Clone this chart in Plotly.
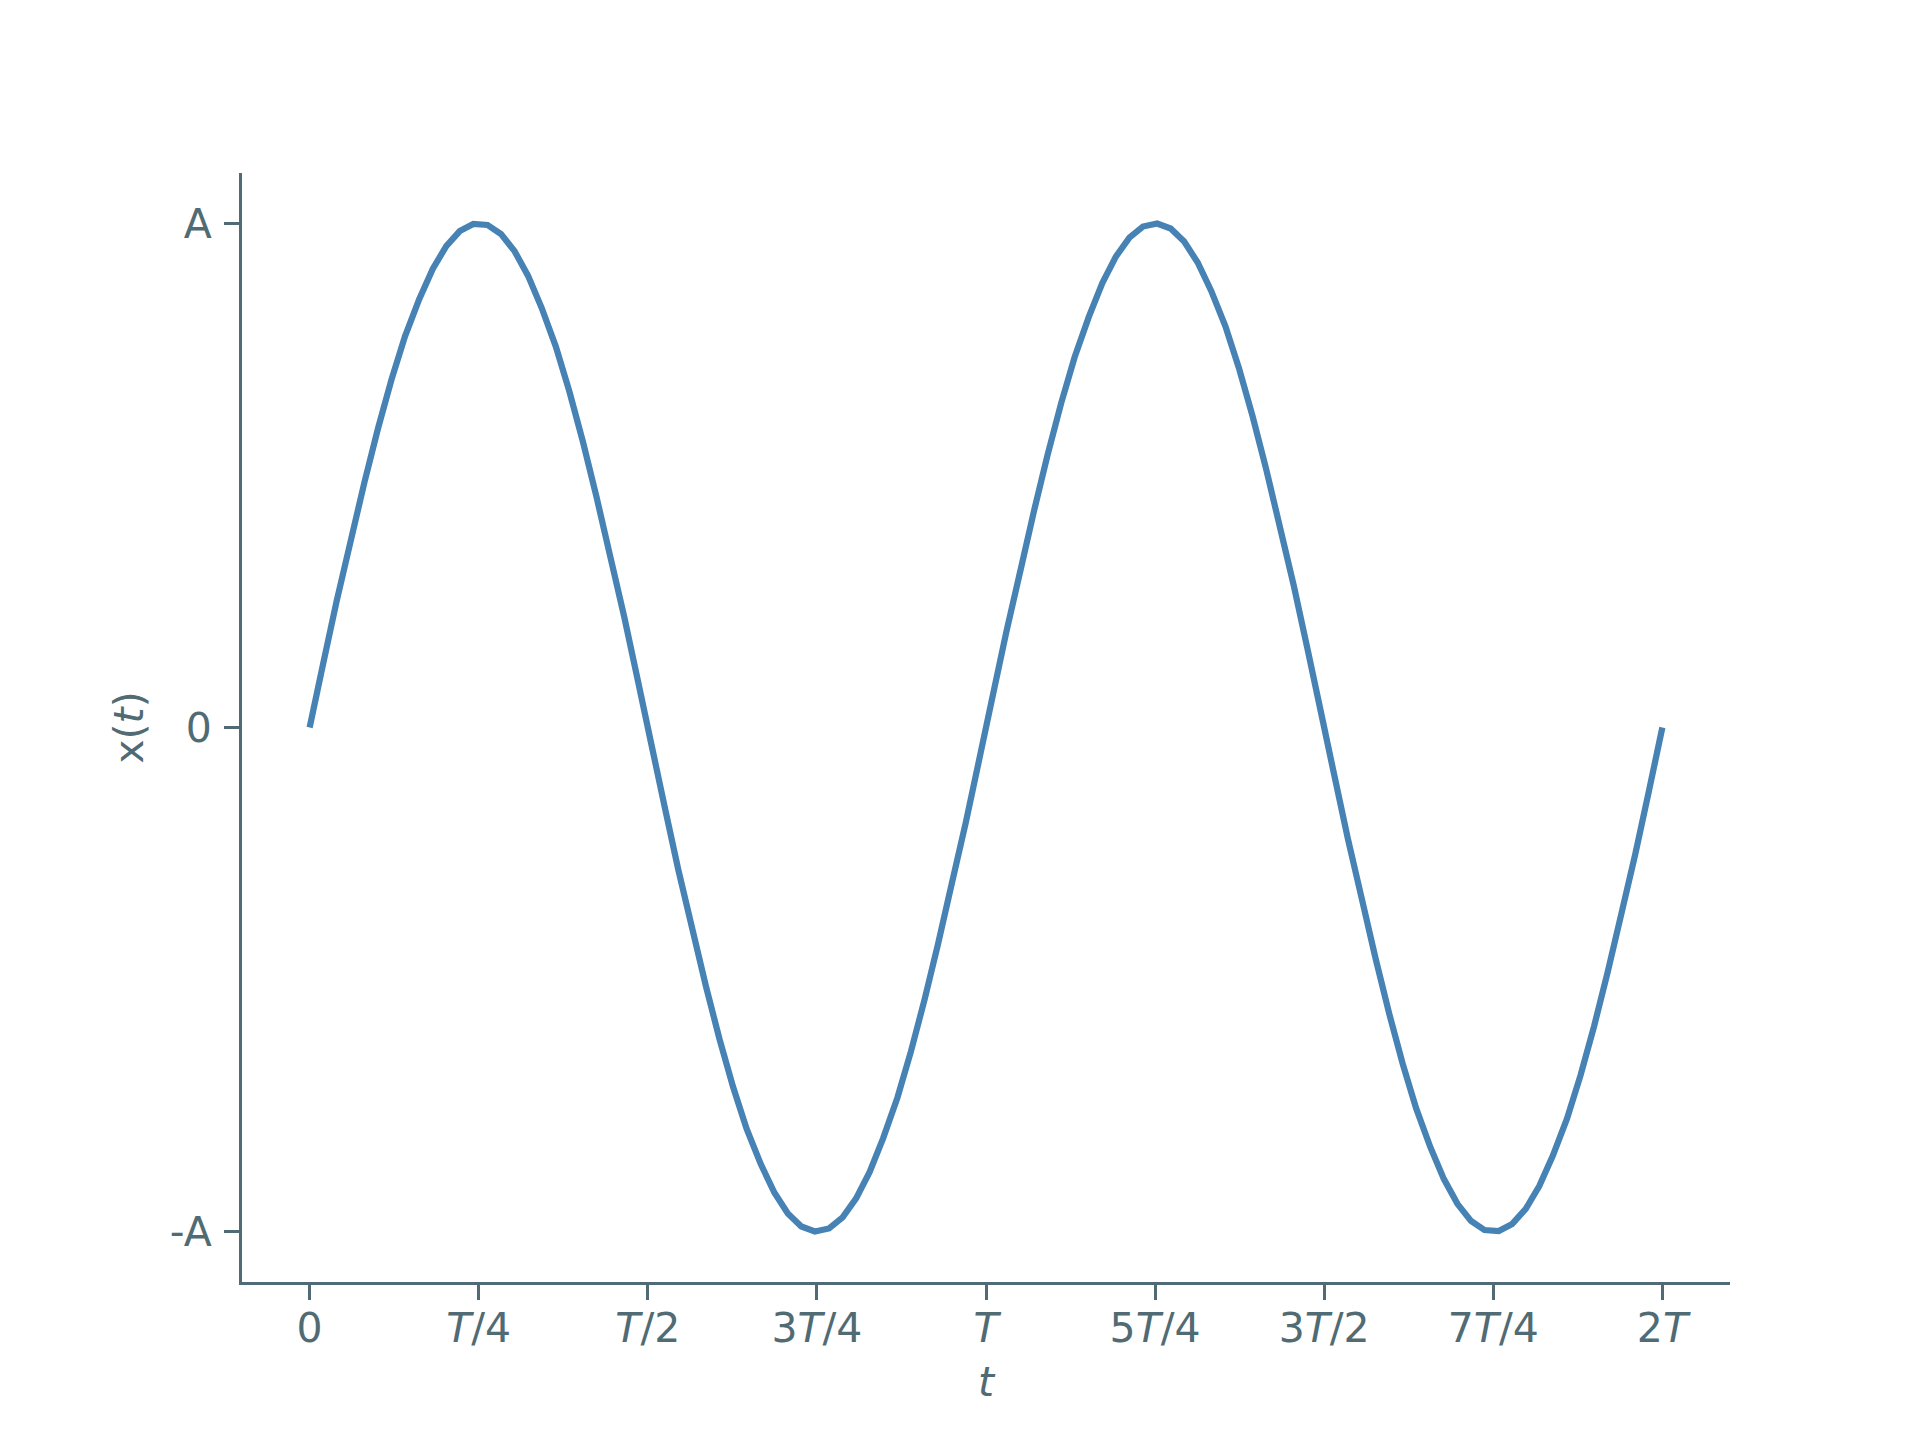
# синусоида x(t) за два периода
import plotly.graph_objects as go

# время в долях периода T
t_values = [0.0, 0.020, 0.040, 0.061, 0.081, 0.101, 0.121, 0.141, 0.162, 0.182,
            0.202, 0.222, 0.242, 0.263, 0.283, 0.303, 0.323, 0.343, 0.364, 0.384,
            0.404, 0.424, 0.444, 0.465, 0.485, 0.505, 0.525, 0.545, 0.566, 0.586,
            0.606, 0.626, 0.646, 0.667, 0.687, 0.707, 0.727, 0.747, 0.768, 0.788,
            0.808, 0.828, 0.848, 0.869, 0.889, 0.909, 0.929, 0.949, 0.970, 0.990,
            1.010, 1.030, 1.051, 1.071, 1.091, 1.111, 1.131, 1.152, 1.172, 1.192,
            1.212, 1.232, 1.253, 1.273, 1.293, 1.313, 1.333, 1.354, 1.374, 1.394,
            1.414, 1.434, 1.455, 1.475, 1.495, 1.515, 1.535, 1.556, 1.576, 1.596,
            1.616, 1.636, 1.657, 1.677, 1.697, 1.717, 1.737, 1.758, 1.778, 1.798,
            1.818, 1.838, 1.859, 1.879, 1.899, 1.919, 1.939, 1.960, 1.980, 2.000]

# смещение в долях амплитуды A
x_values = [0.0, 0.1266, 0.2511, 0.3717, 0.4862, 0.5929, 0.6901, 0.7761, 0.8497, 0.9096,
            0.9549, 0.9848, 0.9989, 0.9969, 0.9788, 0.9450, 0.8959, 0.8326, 0.7557, 0.6668,
            0.5670, 0.4582, 0.3420, 0.2203, 0.0951, -0.0317, -0.1580, -0.2817, -0.4009, -0.5137,
            -0.6182, -0.7127, -0.7958, -0.8660, -0.9224, -0.9639, -0.9898, -0.9999, -0.9938, -0.9718,
            -0.9342, -0.8815, -0.8146, -0.7345, -0.6428, -0.5406, -0.4298, -0.3120, -0.1893, -0.0634,
            0.0634, 0.1893, 0.3120, 0.4298, 0.5406, 0.6428, 0.7345, 0.8146, 0.8815, 0.9342,
            0.9718, 0.9938, 0.9999, 0.9898, 0.9639, 0.9224, 0.8660, 0.7958, 0.7127, 0.6182,
            0.5137, 0.4009, 0.2817, 0.1580, 0.0317, -0.0951, -0.2203, -0.3420, -0.4582, -0.5670,
            -0.6668, -0.7557, -0.8326, -0.8959, -0.9450, -0.9788, -0.9969, -0.9989, -0.9848, -0.9549,
            -0.9096, -0.8497, -0.7761, -0.6901, -0.5929, -0.4862, -0.3717, -0.2511, -0.1266, 0.0]

# подписи делений
x_tick_vals = [0, 0.25, 0.5, 0.75, 1, 1.25, 1.5, 1.75, 2]
x_tick_text = ['0', '<i>T</i>/4', '<i>T</i>/2', '3<i>T</i>/4', '<i>T</i>',
               '5<i>T</i>/4', '3<i>T</i>/2', '7<i>T</i>/4', '2<i>T</i>']
y_tick_vals = [-1, 0, 1]
y_tick_text = ['-A', '0', 'A']

ink = '#506b73'

fig = go.Figure()
# simplify=False, иначе plotly выбрасывает часть точек
fig.add_trace(go.Scatter(x=t_values, y=x_values, mode='lines',
                         line=dict(color='#4682b4', width=6.25, simplify=False),
                         showlegend=False))

axis_common = dict(showline=True, linecolor=ink, linewidth=3,
                   ticks='outside', ticklen=15, tickwidth=3, tickcolor=ink,
                   showgrid=False, zeroline=False,
                   tickfont=dict(family='DejaVu Sans', size=41, color=ink))

fig.update_xaxes(range=[-0.1, 2.1], tickvals=x_tick_vals, ticktext=x_tick_text,
                 ticklabelstandoff=-7,
                 title=dict(text='<i>t</i>', standoff=17,
                            font=dict(family='DejaVu Sans', size=41, color=ink)),
                 **axis_common)
fig.update_yaxes(range=[-1.1, 1.1], tickvals=y_tick_vals, ticktext=y_tick_text,
                 ticklabelstandoff=4,
                 title=dict(text='x(<i>t</i>)', standoff=14,
                            font=dict(family='DejaVu Sans', size=41, color=ink)),
                 **axis_common)

# сдвиг на отступ страницы браузера
fig.update_layout(width=1920, height=1440,
                  margin=dict(l=234, r=198, t=165, b=166),
                  plot_bgcolor='white', paper_bgcolor='white')

fig.write_html('out.html')
